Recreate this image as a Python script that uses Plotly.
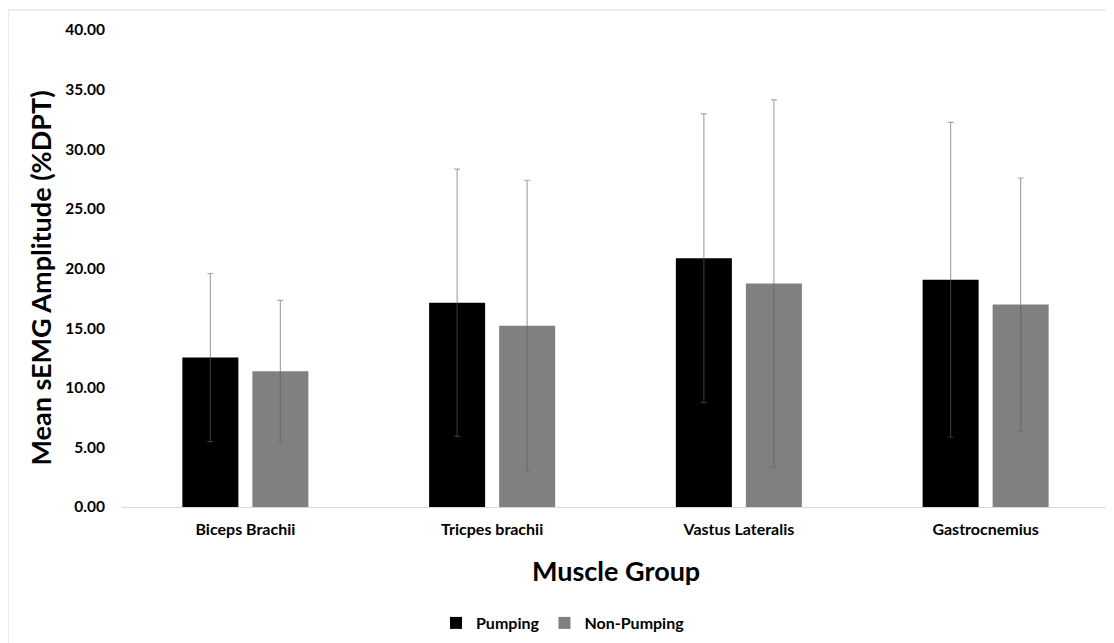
import plotly.graph_objects as go

categories = ["Biceps Brachii", "Tricpes brachii", "Vastus Lateralis", "Gastrocnemius"]
pumping = [12.53, 17.13, 20.86, 19.05]
pumping_sd = [7.05, 11.2, 12.1, 13.2]
non_pumping = [11.38, 15.2, 18.74, 16.99]
non_pumping_sd = [5.95, 12.2, 15.4, 10.6]
y_ticks = [0, 5, 10, 15, 20, 25, 30, 35, 40]

FONT = "Lato"
err_color = "rgba(94,94,94,0.55)"

fig = go.Figure()
fig.add_trace(go.Bar(
    name="Pumping", x=categories, y=pumping,
    marker=dict(color="#000000", line=dict(color="#000000", width=0)),
    error_y=dict(type="data", array=pumping_sd, visible=True,
                 color=err_color, thickness=1.2, width=3),
))
fig.add_trace(go.Bar(
    name="Non-Pumping", x=categories, y=non_pumping,
    marker=dict(color="#808080", line=dict(color="#808080", width=0)),
    error_y=dict(type="data", array=non_pumping_sd, visible=True,
                 color=err_color, thickness=1.2, width=3),
))

# page body has an 8px margin: screen = figure + 8
OFF = 8
W, H = 1114, 643
PL, PR, PT, PB = 122, 1109, 30, 508  # plot area in screen pixels
L, R, T, B = PL - OFF, W - (PR - OFF), PT - OFF, H - (PB - OFF)
pw, ph = PR - PL, PB - PT

def px_x(p):
    return (p - PL) / pw

def px_y(p):
    return (PB - p) / ph

fig.update_layout(
    width=W, height=H,
    margin=dict(l=L, r=R, t=T, b=B),
    paper_bgcolor="white", plot_bgcolor="white",
    barmode="group", bargap=0.4325, bargroupgap=0.2,
    font=dict(family=FONT, color="#000000"),
    showlegend=True,
    legend=dict(orientation="h", x=px_x(563), xanchor="center",
                y=px_y(623), yanchor="middle",
                font=dict(family=FONT, size=16, color="#000000", weight="bold"),
                itemwidth=30, bgcolor="rgba(0,0,0,0)"),
    xaxis=dict(
        showgrid=False, showline=True, linecolor="#d9d9d9", linewidth=1,
        ticks="", ticklabelstandoff=8,
        tickfont=dict(family=FONT, size=16, weight="bold", color="#000000"),
    ),
    yaxis=dict(
        range=[0, 40], tickvals=y_ticks, tickformat=".2f",
        showgrid=False, zeroline=False, showline=False, ticks="",
        ticklabelstandoff=16,
        tickfont=dict(family=FONT, size=15.5, weight="bold", color="#000000"),
    ),
    annotations=[
        dict(text="Mean sEMG Amplitude (%DPT)", xref="paper", yref="paper",
             x=px_x(40), y=px_y(279), xanchor="center", yanchor="middle",
             textangle=-90, showarrow=False,
             font=dict(family=FONT, size=27, weight="bold", color="#000000")),
        dict(text="Muscle Group", xref="paper", yref="paper",
             x=px_x(616), y=px_y(572), xanchor="center", yanchor="middle",
             showarrow=False,
             font=dict(family=FONT, size=27, weight="bold", color="#000000")),
    ],
    shapes=[dict(type="rect", xref="paper", yref="paper",
                 x0=px_x(8), x1=px_x(1130), y0=px_y(660), y1=px_y(10),
                 line=dict(color="#d9d9d9", width=1), fillcolor="rgba(0,0,0,0)",
                 layer="below")],
)

fig.write_html("out.html")
